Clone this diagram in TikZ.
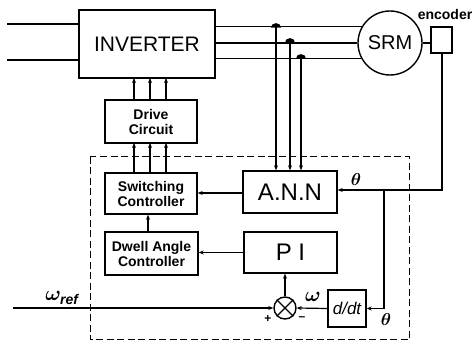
\documentclass[tikz,border=0pt]{standalone}
\usepackage{bm}
\usepackage{fontspec}
\setmainfont{Liberation Sans}
\usetikzlibrary{arrows.meta,calc}
\begin{document}
\begin{tikzpicture}[x=1pt,y=-1pt,
  box/.style={draw,line width=1.4pt,inner sep=0pt},
  conn/.style={line width=1.2pt},
  arr/.style={conn,-{Stealth[length=5pt,width=4pt]}},
  small/.style={font=\fontsize{14}{15}\selectfont\bfseries,align=center},
  big/.style={font=\fontsize{24}{24}\selectfont},
  glabel/.style={font=\fontsize{18}{18}\selectfont},
  jdot/.style={fill=black}
]
\useasboundingbox (0,0) rectangle (475,350);

% main blocks
\node[box,minimum width=136pt,minimum height=68pt,font=\fontsize{21}{21}\selectfont] (inv) at (147,44) {INVERTER};
\node[box,circle,minimum size=64pt,font=\fontsize{20}{20}\selectfont] (srm) at (390,43) {SRM};
\node[box,minimum width=21pt,minimum height=26pt] (enc) at (441.5,40) {};
\node[small] (enclbl) at (445,14) {encoder};

\node[box,minimum width=92pt,minimum height=43pt,small] (drv) at (151,121.5) {Drive\\Circuit};
\node[box,minimum width=92pt,minimum height=41pt,small] (sw) at (151,193.5) {Switching\\Controller};
\node[box,minimum width=93pt,minimum height=43pt,small] (dw) at (151.5,253.5) {Dwell Angle\\Controller};
\node[box,minimum width=94pt,minimum height=42pt,big] (ann) at (290,192) {A.N.N};
\node[box,minimum width=93pt,minimum height=41pt,big] (pi) at (290.5,252.5) {P I};
\node[box,circle,minimum size=22pt] (sum) at (285,308) {};
\draw[line width=1.2pt] (sum.45)--(sum.225) (sum.135)--(sum.315);
\node[box,minimum width=38pt,minimum height=37pt,font=\fontsize{17}{17}\selectfont\itshape] (ddt) at (347,308.5) {d/dt};

% dashed controller frame
\draw[line width=1pt,dash pattern=on 7pt off 3.5pt] (90,157) rectangle (409,340);

% input lines to inverter
\coordinate (inA) at (7,24);
\coordinate (inB) at (7,60);
\draw[conn] (inA) -- (inA -| inv.west);
\draw[conn] (inB) -- (inB -| inv.west);

% inverter to SRM
\draw[conn] (inv.east |- srm.150) -- (srm.150);
\draw[conn] (inv.east |- srm.180) -- (srm.180);
\draw[conn] (inv.east |- srm.208) -- (srm.208);
\draw[conn] (srm.east) -- (enc.west |- srm.east);

% taps to ANN
\coordinate (ta) at (276,27);
\coordinate (tb) at (290,42);
\coordinate (tc) at (301,58);
\foreach \tp in {ta,tb,tc}{
  \fill[jdot] ($(\tp)+(-5,0.6)$) arc[start angle=180,end angle=0,x radius=5pt,y radius=4.5pt] -- cycle;
  \draw[arr] (\tp) -- (\tp |- ann.north);
}

% drive -> inverter, switching -> drive
\foreach \xx in {134,150,166}{
  \draw[arr] (\xx,100) -- (\xx,78);
  \draw[arr] (\xx,173) -- (\xx,143);
}

% ANN -> switching
\coordinate (annout) at (243,193);
\draw[arr] (annout) -- (annout -| sw.east);
% dwell -> switching
\coordinate (dwout) at (148,232);
\draw[arr] (dwout) -- (dwout |- sw.south);
% PI -> dwell
\draw[arr] (pi.west) -- (pi.west -| dw.east);
% sum -> PI
\draw[arr] (sum.north) -- (sum.north |- pi.south);

% encoder feedback
\coordinate (ec) at (442,190);
\coordinate (br) at (384,190);
\draw[arr] (enc.south -| ec) -- (ec) -- (ec -| ann.east);
\draw[arr] (br) -- (br |- ddt.east) -- (ddt.east);
\node[glabel] (tha) at (356,180) {$\bm{\theta}$};
\node[glabel] (thb) at (386,320) {$\bm{\theta}$};

% speed loop
\coordinate (wr) at (13,308);
\draw[arr] (wr) -- (sum.west);
\node[font=\fontsize{20}{20}\selectfont] (wref) at (62,298) {$\bm{\omega_{\mathit{ref}}}$};
\draw[arr] (ddt.west) -- (sum.east);
\node[font=\fontsize{20}{20}\selectfont] (wl) at (313,297) {$\bm{\omega}$};
\node[font=\fontsize{12}{12}\selectfont\bfseries] (plus) at (268,319) {+};
\node[font=\fontsize{12}{12}\selectfont\bfseries] (minus) at (302,319) {\textendash};
\end{tikzpicture}
\end{document}
